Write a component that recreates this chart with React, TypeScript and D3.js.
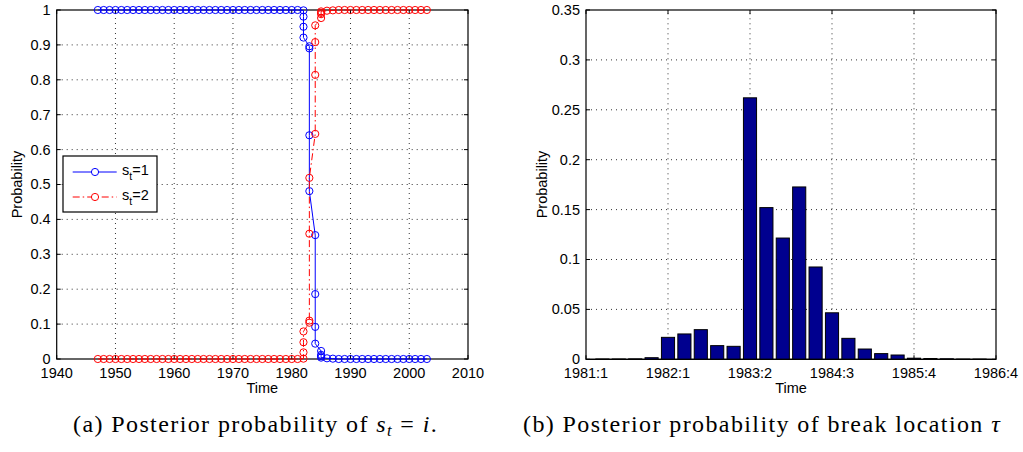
import * as React from "react";
import * as d3 from "d3";

// quarterly smoothed probabilities, plotted against the calendar year (quarters share an x)
const stateYears = [
  1947, 1948, 1949, 1950, 1951, 1952, 1953, 1954, 1955, 1956, 1957, 1958,
  1959, 1960, 1961, 1962, 1963, 1964, 1965, 1966, 1967, 1968, 1969, 1970,
  1971, 1972, 1973, 1974, 1975, 1976, 1977, 1978, 1979, 1980, 1981,
  1982, 1982, 1982, 1982, 1983, 1983, 1983, 1983,
  1984, 1984, 1984, 1984, 1985, 1985, 1985, 1985,
  1986, 1987, 1988, 1989, 1990, 1991, 1992, 1993, 1994, 1995, 1996, 1997,
  1998, 1999, 2000, 2001, 2002, 2003,
];
const probState1 = [
  1, 1, 1, 1, 1, 1, 1, 1, 1, 1, 1, 1,
  1, 1, 1, 1, 1, 1, 1, 1, 1, 1, 1, 1,
  1, 1, 1, 1, 1, 1, 1, 1, 1, 1, 1,
  0.999, 0.981, 0.952, 0.921, 0.896, 0.89, 0.641, 0.481,
  0.355, 0.186, 0.092, 0.044, 0.023, 0.012, 0.008, 0.004,
  0.002, 0.001, 0, 0, 0, 0, 0, 0, 0, 0, 0, 0,
  0, 0, 0, 0, 0, 0,
];
const probState2 = [
  0, 0, 0, 0, 0, 0, 0, 0, 0, 0, 0, 0,
  0, 0, 0, 0, 0, 0, 0, 0, 0, 0, 0, 0,
  0, 0, 0, 0, 0, 0, 0, 0, 0, 0, 0,
  0.001, 0.019, 0.048, 0.079, 0.104, 0.11, 0.359, 0.519,
  0.645, 0.814, 0.908, 0.956, 0.977, 0.988, 0.992, 0.996,
  0.998, 0.999, 1, 1, 1, 1, 1, 1, 1, 1, 1, 1,
  1, 1, 1, 1, 1, 1,
];

// posterior of the break location, one bar per quarter
const breakIndex = [1, 2, 3, 4, 5, 6, 7, 8, 9, 10, 11, 12, 13, 14, 15, 16, 17, 18, 19, 20, 21, 22, 23, 24];
const breakProb = [
  0.0003, 0.0003, 0.0004, 0.0016, 0.022, 0.0254, 0.0297, 0.0137, 0.013, 0.262,
  0.152, 0.1215, 0.1727, 0.0925, 0.0466, 0.021, 0.0103, 0.0057, 0.0043, 0.0011,
  0.0008, 0.0005, 0.0002, 0.0002,
];
const breakTicks = [0, 5, 10, 15, 20, 25];
const breakTickLabels = ["1981:1", "1982:1", "1983:2", "1984:3", "1985:4", "1986:4"];

const leftXTicks = [1940, 1950, 1960, 1970, 1980, 1990, 2000, 2010];
const leftYTicks = [0, 0.1, 0.2, 0.3, 0.4, 0.5, 0.6, 0.7, 0.8, 0.9, 1];
const rightYTicks = [0, 0.05, 0.1, 0.15, 0.2, 0.25, 0.3, 0.35];

const SANS = "'Liberation Sans', Arial, Helvetica, sans-serif";
const SERIF = "'Liberation Serif', 'DejaVu Serif', serif";
const FS = 14.5;

type G = d3.Selection<SVGGElement, unknown, null, undefined>;

function drawFrame(
  g: G,
  x: d3.ScaleLinear<number, number>,
  y: d3.ScaleLinear<number, number>,
  xTicks: number[],
  yTicks: number[],
  xLabel: (d: number, i: number) => string,
  yLabel: (d: number) => string,
) {
  const [x0, x1] = x.range();
  const [y0, y1] = y.range(); // y0 bottom, y1 top

  // dotted grid
  const grid = g.append("g").attr("stroke", "#333").attr("stroke-width", 1).attr("stroke-dasharray", "1,4");
  xTicks.filter((t) => x(t) > x0 + 1 && x(t) < x1 - 1).forEach((t) => {
    grid.append("line").attr("x1", x(t)).attr("x2", x(t)).attr("y1", y0).attr("y2", y1);
  });
  yTicks.filter((t) => y(t) < y0 - 1 && y(t) > y1 + 1).forEach((t) => {
    grid.append("line").attr("x1", x0).attr("x2", x1).attr("y1", y(t)).attr("y2", y(t));
  });

  // box
  g.append("rect")
    .attr("x", x0).attr("y", y1)
    .attr("width", x1 - x0).attr("height", y0 - y1)
    .attr("fill", "none").attr("stroke", "#000").attr("stroke-width", 1.2);

  // inward ticks on all four sides
  const tl = 4;
  const ticks = g.append("g").attr("stroke", "#000").attr("stroke-width", 1);
  xTicks.forEach((t) => {
    ticks.append("line").attr("x1", x(t)).attr("x2", x(t)).attr("y1", y0).attr("y2", y0 - tl);
    ticks.append("line").attr("x1", x(t)).attr("x2", x(t)).attr("y1", y1).attr("y2", y1 + tl);
  });
  yTicks.forEach((t) => {
    ticks.append("line").attr("x1", x0).attr("x2", x0 + tl).attr("y1", y(t)).attr("y2", y(t));
    ticks.append("line").attr("x1", x1).attr("x2", x1 - tl).attr("y1", y(t)).attr("y2", y(t));
  });

  g.append("g").selectAll("text").data(xTicks).enter().append("text")
    .attr("x", (d) => x(d)).attr("y", y0 + 18.5)
    .attr("text-anchor", "middle")
    .attr("font-family", SANS).attr("font-size", FS)
    .text((d, i) => xLabel(d, i));

  g.append("g").selectAll("text").data(yTicks).enter().append("text")
    .attr("x", x0 - 6).attr("y", (d) => y(d))
    .attr("dy", "0.34em")
    .attr("text-anchor", "end")
    .attr("font-family", SANS).attr("font-size", FS)
    .text((d) => yLabel(d));
}

function axisTitles(g: G, cx: number, xTitleY: number, yTitleX: number, cy: number) {
  g.append("text")
    .attr("x", cx).attr("y", xTitleY)
    .attr("text-anchor", "middle")
    .attr("font-family", SANS).attr("font-size", FS)
    .text("Time");
  g.append("text")
    .attr("transform", `translate(${yTitleX},${cy}) rotate(-90)`)
    .attr("text-anchor", "middle")
    .attr("font-family", SANS).attr("font-size", FS)
    .text("Probability");
}

export default class App extends React.Component {
  private svgRef = React.createRef<SVGSVGElement>();

  public componentDidMount() {
    this.drawChart();
  }

  public render() {
    return (
      <div style={{ position: "absolute", top: 0, left: 0, width: 1023, height: 452, background: "#fff", overflow: "hidden" }}>
        <svg ref={this.svgRef} width={1023} height={452} style={{ display: "block" }} />
      </div>
    );
  }

  private drawChart() {
    if (!this.svgRef.current) return;
    const svg = d3.select(this.svgRef.current);
    svg.selectAll("*").remove();

    // ---------- (a) state probabilities ----------
    const xA = d3.scaleLinear().domain([1940, 2010]).range([56.7, 468]);
    const yA = d3.scaleLinear().domain([0, 1]).range([359, 10]);
    const gA = svg.append("g") as unknown as G;
    drawFrame(gA, xA, yA, leftXTicks, leftYTicks, (d) => String(d), (d) => String(+d.toFixed(1)));
    axisTitles(gA, (56.7 + 468) / 2, 393, 21.5, 184.5);

    const pts1 = stateYears.map((t, i) => [t, probState1[i]] as [number, number]);
    const pts2 = stateYears.map((t, i) => [t, probState2[i]] as [number, number]);
    const line = d3.line<[number, number]>().x((d) => xA(d[0])).y((d) => yA(d[1]));

    const series = [
      { pts: pts1, color: "#0000ff", dash: null as string | null },
      { pts: pts2, color: "#ff0000", dash: "7,3,1.5,3" },
    ];
    series.forEach((s) => {
      gA.append("path")
        .attr("d", line(s.pts))
        .attr("fill", "none")
        .attr("stroke", s.color)
        .attr("stroke-width", 1)
        .attr("stroke-dasharray", s.dash);
      gA.append("g").selectAll("circle").data(s.pts).enter().append("circle")
        .attr("cx", (d) => xA(d[0])).attr("cy", (d) => yA(d[1]))
        .attr("r", 3.6)
        .attr("fill", "none")
        .attr("stroke", s.color)
        .attr("stroke-width", 1);
    });

    // legend
    const lg = gA.append("g");
    lg.append("rect")
      .attr("x", 63).attr("y", 156).attr("width", 94).attr("height", 56)
      .attr("fill", "#fff").attr("stroke", "#000").attr("stroke-width", 1.2);
    series.forEach((s, i) => {
      const ly = 172 + i * 25;
      lg.append("line")
        .attr("x1", 72.7).attr("x2", 116.7).attr("y1", ly).attr("y2", ly)
        .attr("stroke", s.color).attr("stroke-width", 1)
        .attr("stroke-dasharray", s.dash);
      lg.append("circle")
        .attr("cx", 95).attr("cy", ly).attr("r", 3.6)
        .attr("fill", "#fff").attr("stroke", s.color).attr("stroke-width", 1);
      const txt = lg.append("text")
        .attr("x", 122).attr("y", ly + 3)
        .attr("font-family", SANS).attr("font-size", FS);
      txt.append("tspan").text("s");
      txt.append("tspan").attr("dy", 5).attr("font-size", 10.5).text("t");
      txt.append("tspan").attr("dy", -5).text(`=${i + 1}`);
    });

    // ---------- (b) break location ----------
    const xB = d3.scaleLinear().domain([0, 25]).range([586, 996]);
    const yB = d3.scaleLinear().domain([0, 0.35]).range([359.3, 10]);
    const gB = svg.append("g") as unknown as G;
    drawFrame(gB, xB, yB, breakTicks, rightYTicks, (_d, i) => breakTickLabels[i], (d) => String(+d.toFixed(2)));
    axisTitles(gB, 791, 393, 547, 184.5);

    const bw = (xB(1) - xB(0)) * 0.8;
    gB.append("g").selectAll("rect").data(breakIndex).enter().append("rect")
      .attr("x", (d) => xB(d) - bw / 2)
      .attr("y", (_d, i) => yB(breakProb[i]))
      .attr("width", bw)
      .attr("height", (_d, i) => yB(0) - yB(breakProb[i]))
      .attr("fill", "#00008f")
      .attr("stroke", "#000")
      .attr("stroke-width", 1);
    // redraw bottom axis line over bar edges
    gB.append("line")
      .attr("x1", xB(0)).attr("x2", xB(25)).attr("y1", yB(0)).attr("y2", yB(0))
      .attr("stroke", "#000").attr("stroke-width", 1.2);

    // ---------- captions ----------
    const capA = svg.append("text")
      .attr("x", 73).attr("y", 432)
      .attr("font-family", SERIF).attr("font-size", 24)
      .attr("letter-spacing", 1.4);
    capA.append("tspan").text("(a) Posterior probability of ");
    capA.append("tspan").attr("font-style", "italic").text("s");
    capA.append("tspan").attr("dy", 4).attr("font-size", 16.5).attr("font-style", "italic").text("t");
    capA.append("tspan").attr("dy", -4).text(" = ");
    capA.append("tspan").attr("font-style", "italic").text("i");
    capA.append("tspan").text(".");

    const capB = svg.append("text")
      .attr("x", 523).attr("y", 432)
      .attr("font-family", SERIF).attr("font-size", 24)
      .attr("letter-spacing", 1.4);
    capB.append("tspan").text("(b) Posterior probability of break location ");
    capB.append("tspan").attr("font-style", "italic").text("τ");
  }
}
